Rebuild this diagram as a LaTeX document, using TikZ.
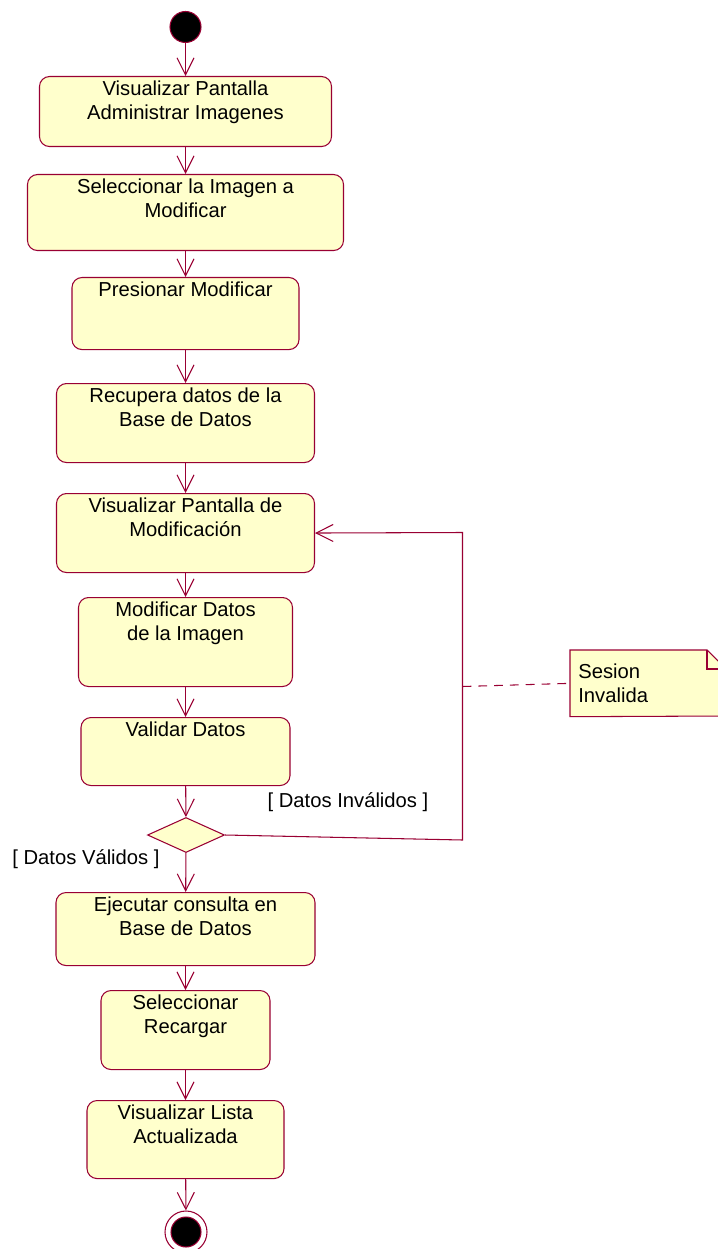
\documentclass[tikz,border=0pt]{standalone}
\usepackage{fontspec}
\setmainfont{Liberation Sans}
\usepackage{xcolor}
\usepackage{tikz}
\usetikzlibrary{shapes.geometric, arrows.meta, positioning, backgrounds}

\definecolor{rose}{RGB}{153,0,51}
\definecolor{roseyellow}{RGB}{255,255,204}

\begin{document}
\begin{tikzpicture}[
    every node/.style={font=\fontsize{11.5}{13.7}\selectfont},
    act/.style={rectangle, draw=rose, fill=roseyellow, rounded corners=0.2cm, line width=0.6pt,
                align=center, anchor=north, inner xsep=2pt, inner ysep=3pt, text height=8pt},
    act2/.style={act, text height=21.7pt},
    dec/.style={diamond, draw=rose, fill=roseyellow, line width=0.6pt, inner sep=0pt,
                minimum width=1.54cm, minimum height=0.70cm},
    startdot/.style={circle, draw=rose, fill=black, line width=0.6pt, inner sep=0pt},
    endring/.style={circle, draw=rose, fill=white, line width=0.6pt, inner sep=0pt, minimum size=0.84cm},
    notetext/.style={anchor=north west, align=left, inner xsep=0.16cm, inner ysep=3pt,
                     minimum width=3.12cm, minimum height=1.32cm, text width=2.8cm},
    flow/.style={-{Straight Barb[length=0.34cm, width=0.34cm]}, line width=0.6pt, draw=rose},
    link/.style={line width=0.6pt, draw=rose},
    guard/.style={font=\fontsize{11.5}{13.7}\selectfont}
]
\useasboundingbox (0,0) rectangle (14.36,-24.98);

% === Main flow ===
\node[startdot, minimum size=0.62cm] (ini) at (3.71,-0.54) {};

\node[act2, minimum width=5.84cm, minimum height=1.40cm, text depth=12.1pt] (vpa) at (3.71,-1.52)
    {Visualizar Pantalla\\Administrar Imagenes};
\node[act2, minimum width=6.32cm, minimum height=1.52cm, text depth=15.5pt] (sel) at (3.71,-3.48)
    {Seleccionar la Imagen a\\Modificar};
\node[act, minimum width=4.54cm, minimum height=1.44cm, text depth=27.0pt] (pre) at (3.71,-5.54)
    {Presionar Modificar};
\node[act2, minimum width=5.16cm, minimum height=1.58cm, text depth=17.2pt] (rec) at (3.71,-7.66)
    {Recupera datos de la\\Base de Datos};
\node[act2, minimum width=5.16cm, minimum height=1.58cm, text depth=17.2pt] (vpm) at (3.71,-9.86)
    {Visualizar Pantalla de\\Modificación};
\node[act2, minimum width=4.28cm, minimum height=1.78cm, text depth=22.9pt] (mod) at (3.71,-11.94)
    {Modificar Datos\\de la Imagen};
\node[act, minimum width=4.18cm, minimum height=1.36cm, text depth=24.7pt] (val) at (3.71,-14.34)
    {Validar Datos};

\node[dec] (chk) at (3.72,-16.70) {};

\node[act2, minimum width=5.18cm, minimum height=1.46cm, text depth=13.8pt] (eje) at (3.71,-17.84)
    {Ejecutar consulta en\\Base de Datos};
\node[act2, minimum width=3.38cm, minimum height=1.58cm, text depth=17.2pt] (rcg) at (3.71,-19.80)
    {Seleccionar\\Recargar};
\node[act2, minimum width=3.94cm, minimum height=1.56cm, text depth=16.7pt] (lst) at (3.71,-22.00)
    {Visualizar Lista\\Actualizada};

\node[endring] (fin) at (3.72,-24.64) {};
\node[startdot, minimum size=0.60cm] (finin) at (fin) {};

\draw[flow] (ini) -- (vpa);
\draw[flow] (vpa) -- (sel);
\draw[flow] (sel) -- (pre);
\draw[flow] (pre) -- (rec);
\draw[flow] (rec) -- (vpm);
\draw[flow] (vpm) -- (mod);
\draw[flow] (mod) -- (val);
\draw[flow] (val) -- (chk);
\draw[flow] (chk) -- (eje);
\draw[flow] (eje) -- (rcg);
\draw[flow] (rcg) -- (lst);
\draw[flow] (lst) -- (fin);

% === Loop back for invalid data ===
\coordinate (loopb) at (9.25,-16.80);
\coordinate (loopt) at (9.25,-10.65);
\coordinate (loopm) at (9.25,-13.73);
\draw[flow] (chk.east) -- (loopb) -- (loopt) -- (vpm.east);

\node[guard] (inv) at (6.96,-16.04) {[ Datos Inválidos ]};
\node[guard] (vld) at (1.72,-17.18) {[ Datos Válidos ]};

% === Note ===
\node[notetext] (nota) at (11.40,-13.00) {Sesion\\Invalida};
\begin{scope}[on background layer]
\draw[link, fill=roseyellow] (nota.north west) -- (14.14,-13.00) -- (14.52,-13.38)
    -- (14.52,-14.32) -- (nota.south west) -- cycle;
\draw[link] (14.14,-13.00) -- (14.14,-13.38) -- (14.52,-13.38);
\end{scope}
\draw[link, dashed, dash pattern=on 5pt off 4pt] (loopm) -- (nota.west);

\end{tikzpicture}
\end{document}
